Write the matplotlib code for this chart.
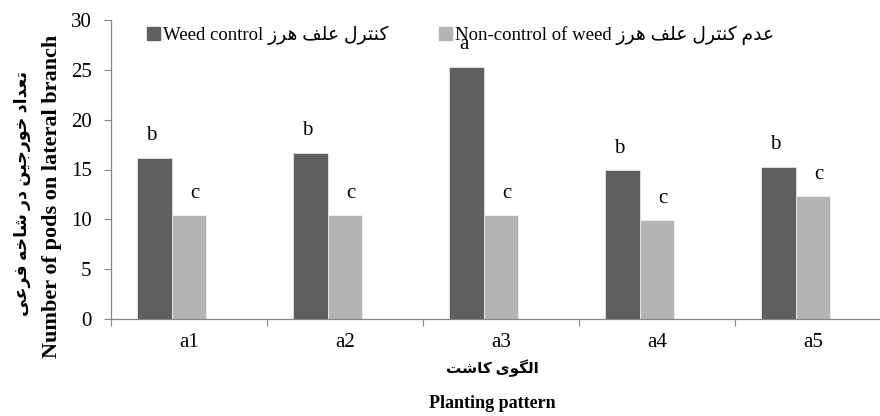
import matplotlib
matplotlib.use("Agg")
import matplotlib.pyplot as plt
import numpy as np
from matplotlib.font_manager import FontProperties
from matplotlib.patches import Patch

# data
categories = ['a1', 'a2', 'a3', 'a4', 'a5']
weed_control = [16.2, 16.7, 25.3, 14.9, 15.3]
no_weed_control = [10.4, 10.4, 10.4, 9.9, 12.3]
letters_control = ['b', 'b', 'a', 'b', 'b']
letters_no_control = ['c', 'c', 'c', 'c', 'c']

# --- tiny Persian shaper (matplotlib does not join Arabic letters) ---
# char: (isolated, final, initial, medial); None = does not join to next letter
FORMS = {
    'ا': ('\uFE8D', '\uFE8E', None, None),
    'ت': ('\uFE95', '\uFE96', '\uFE97', '\uFE98'),
    'ج': ('\uFE9D', '\uFE9E', '\uFE9F', '\uFEA0'),
    'خ': ('\uFEA5', '\uFEA6', '\uFEA7', '\uFEA8'),
    'د': ('\uFEA9', '\uFEAA', None, None),
    'ر': ('\uFEAD', '\uFEAE', None, None),
    'ز': ('\uFEAF', '\uFEB0', None, None),
    'ش': ('\uFEB5', '\uFEB6', '\uFEB7', '\uFEB8'),
    'ع': ('\uFEC9', '\uFECA', '\uFECB', '\uFECC'),
    'ف': ('\uFED1', '\uFED2', '\uFED3', '\uFED4'),
    'ل': ('\uFEDD', '\uFEDE', '\uFEDF', '\uFEE0'),
    'م': ('\uFEE1', '\uFEE2', '\uFEE3', '\uFEE4'),
    'ن': ('\uFEE5', '\uFEE6', '\uFEE7', '\uFEE8'),
    'ه': ('\uFEE9', '\uFEEA', '\uFEEB', '\uFEEC'),
    'و': ('\uFEED', '\uFEEE', None, None),
    'ک': ('\uFB8E', '\uFB8F', '\uFB90', '\uFB91'),
    'گ': ('\uFB92', '\uFB93', '\uFB94', '\uFB95'),
    'ی': ('\uFBFC', '\uFBFD', '\uFBFE', '\uFBFF'),
}


def fa(text):
    out = []
    for i, ch in enumerate(text):
        if ch not in FORMS:
            out.append(ch)
            continue
        prev = text[i - 1] if i > 0 else ''
        nxt = text[i + 1] if i + 1 < len(text) else ''
        join_prev = prev in FORMS and FORMS[prev][2] is not None
        join_next = FORMS[ch][2] is not None and nxt in FORMS
        iso, fin, ini, med = FORMS[ch]
        if join_prev and join_next:
            out.append(med)
        elif join_prev:
            out.append(fin)
        elif join_next:
            out.append(ini)
        else:
            out.append(iso)
    return ''.join(out)[::-1]


fams = ['Liberation Serif', 'DejaVu Sans']
leg_labels = ['Weed control ' + fa('کنترل علف هرز'),
              'Non-control of weed ' + fa('عدم کنترل علف هرز')]
ylab_fa = fa('تعداد خورجین در شاخه فرعی')
ylab_en = 'Number of pods on lateral branch'
xlab_fa = fa('الگوی کاشت')
xlab_en = 'Planting pattern'

dark = '#5f5f5f'
light = '#b3b3b3'
axcol = '#868686'

fig = plt.figure(figsize=(8.8, 4.16), dpi=100)
ax = fig.add_axes([111 / 880, 97 / 416, 780 / 880, 299 / 416])

x = np.arange(len(categories))
w = 0.222
b1 = ax.bar(x - w, weed_control, w, color=dark, edgecolor='white', linewidth=0.4)
b2 = ax.bar(x, no_weed_control, w, color=light, edgecolor='white', linewidth=0.4)

for rect, t in zip(b1, letters_control):
    ax.annotate(t, (rect.get_x() + rect.get_width() / 2, rect.get_height()),
                xytext=(-2, 16), textcoords='offset points', ha='center', va='center',
                fontsize=15, family='Liberation Serif')
for rect, t in zip(b2, letters_no_control):
    ax.annotate(t, (rect.get_x() + rect.get_width() / 2, rect.get_height()),
                xytext=(4, 16), textcoords='offset points', ha='center', va='center',
                fontsize=15, family='Liberation Serif')

ax.set_xlim(-0.5, 4.5)
ax.set_ylim(0, 30)
ax.set_yticks(np.arange(0, 31, 5))
ax.set_xticks(np.arange(-0.5, 5, 1))
ax.set_xticklabels([])
ax.set_xticks(x, minor=True)
ax.set_xticklabels(categories, minor=True)
ax.tick_params(axis='x', which='major', length=5, color=axcol, direction='out')
ax.tick_params(axis='x', which='minor', length=0, pad=10, labelsize=15)
ax.tick_params(axis='y', length=5, color=axcol, direction='out', pad=9, labelsize=15)
for lab in ax.get_xticklabels(minor=True) + ax.get_yticklabels():
    lab.set_family('Liberation Serif')
for s in ['top', 'right']:
    ax.spines[s].set_visible(False)
for s in ['left', 'bottom']:
    ax.spines[s].set_color(axcol)
    ax.spines[s].set_linewidth(0.9)

handles = [Patch(color=dark), Patch(color=light)]
ax.legend(handles, leg_labels, ncol=2, frameon=False, loc='center left',
          bbox_to_anchor=(147 / 880, 1 - 35 / 416), bbox_transform=fig.transFigure,
          prop=FontProperties(family=fams, size=13.5), handlelength=0.7, handleheight=0.7,
          handletextpad=0.15, columnspacing=2.7, borderaxespad=0, borderpad=0)

# axis titles
fig.text(52 / 880, 1 - 196 / 416, ylab_en, rotation=90, ha='center', va='center',
         fontsize=16, fontweight='bold', family='Liberation Serif')
fig.text(22 / 880, 1 - 194 / 416, ylab_fa, rotation=90, ha='center', va='center',
         fontsize=12.5, fontweight='bold', family=fams)
fig.text(492 / 880, 1 - 368 / 416, xlab_fa, ha='center', va='center',
         fontsize=11, fontweight='bold', family=fams)
fig.text(492 / 880, 1 - 404 / 416, xlab_en, ha='center', va='center',
         fontsize=13, fontweight='bold', family='Liberation Serif')

fig.savefig('out.png', dpi=100)
